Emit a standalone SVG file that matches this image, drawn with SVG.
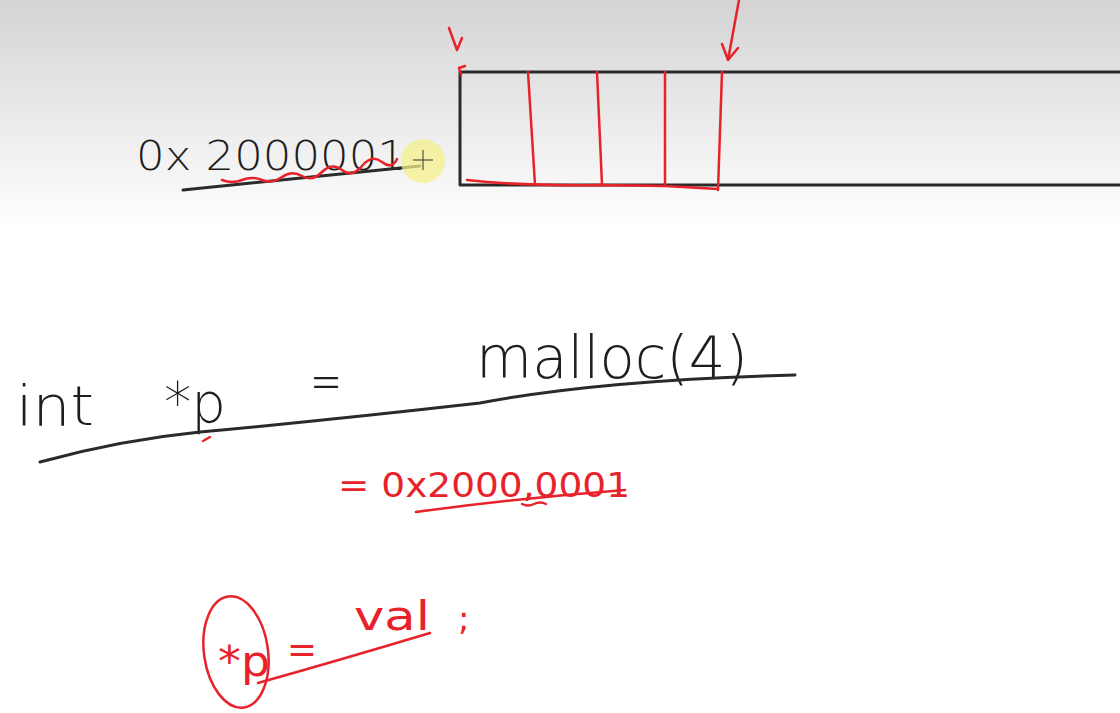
<svg xmlns="http://www.w3.org/2000/svg" width="1120" height="713" viewBox="0 0 1120 713">
<defs>
<linearGradient id="bg" x1="0" y1="0" x2="0" y2="1">
<stop offset="0" stop-color="#d4d4d4"/>
<stop offset="0.55" stop-color="#ececec"/>
<stop offset="1" stop-color="#ffffff"/>
</linearGradient>
<style>
.ink{fill:none;stroke:#2a2a2a;stroke-width:3;stroke-linecap:round;stroke-linejoin:round}
.red{fill:none;stroke:#e8222a;stroke-width:2.5;stroke-linecap:round;stroke-linejoin:round}
.tb{font-family:"DejaVu Sans","Liberation Sans",sans-serif;font-weight:300;fill:#1e1e1e}
.tr{font-family:"DejaVu Sans","Liberation Sans",sans-serif;font-weight:400;fill:#e8222a}
</style>
</defs>
<rect x="0" y="0" width="1120" height="713" fill="#ffffff"/>
<rect x="0" y="0" width="1120" height="230" fill="url(#bg)"/>

<g id="memory">
<path class="ink" d="M1122 72 L460 72 L460 185 L1122 185"/>
<path class="red" d="M528 72 L535 185 M597 72 L602 185 M665 72 L665 185 M722 72 L718 190 M467 180 Q520 186 600 185 L665 186 L718 189"/>
<path class="red" d="M461 75 L459 68 L465 66"/>
</g>

<g id="arrows">
<path class="red" d="M449 28 L457 50 L462 38"/>
<path class="red" d="M739 0 L728 60 M722 44 L728 60 L738 48"/>
</g>

<g id="addr">
<text class="tb" x="136" y="170" font-size="40" textLength="270" lengthAdjust="spacingAndGlyphs">0x 2000001</text>
<path class="ink" d="M183 190 Q300 178 420 166"/>
<path class="red" d="M222 180 q10 4 20 0 t20 0 t20 -3 t20 -1 t20 -4 t20 -2 t20 -4 t20 -4 t15 -3"/>
<circle cx="423" cy="161" r="22" fill="#f4ef8a" fill-opacity="0.75"/>
<path d="M413 160 L433 160 M423 150 L423 170" stroke="#333" stroke-width="1"/>
</g>

<g id="decl">
<text class="tb" x="16" y="425" font-size="56" textLength="78" lengthAdjust="spacingAndGlyphs">int</text>
<text class="tb" x="164" y="422" font-size="56" textLength="62" lengthAdjust="spacingAndGlyphs">*p</text>
<text class="tb" x="310" y="400" font-size="56" textLength="32" lengthAdjust="spacingAndGlyphs">=</text>
<text class="tb" x="476" y="378" font-size="58" textLength="272" lengthAdjust="spacingAndGlyphs">malloc(4)</text>
<path class="ink" d="M40 462 Q120 440 200 432 Q330 420 480 403 Q600 380 795 375"/>
<path class="red" d="M203 441 L210 437" stroke-width="4"/>
</g>

<g id="value">
<text class="tr" x="338" y="497" font-size="34" textLength="292" lengthAdjust="spacingAndGlyphs">= 0x2000,0001</text>
<path class="red" d="M416 512 Q520 498 625 490"/>
<path class="red" d="M522 504 q6 3 12 0 t12 0" stroke-width="3"/>
</g>

<g id="deref">
<ellipse class="red" cx="236" cy="652" rx="32" ry="56" transform="rotate(-8 236 652)"/>
<text class="tr" x="218" y="676" font-size="42" textLength="52" lengthAdjust="spacingAndGlyphs">*p</text>
<text class="tr" x="287" y="662" font-size="38" textLength="30" lengthAdjust="spacingAndGlyphs">=</text>
<text class="tr" x="354" y="630" font-size="40" textLength="76" lengthAdjust="spacingAndGlyphs">val</text>
<text class="tr" x="458" y="630" font-size="34">;</text>
<path class="red" d="M258 683 Q340 660 430 633"/>
</g>
</svg>
